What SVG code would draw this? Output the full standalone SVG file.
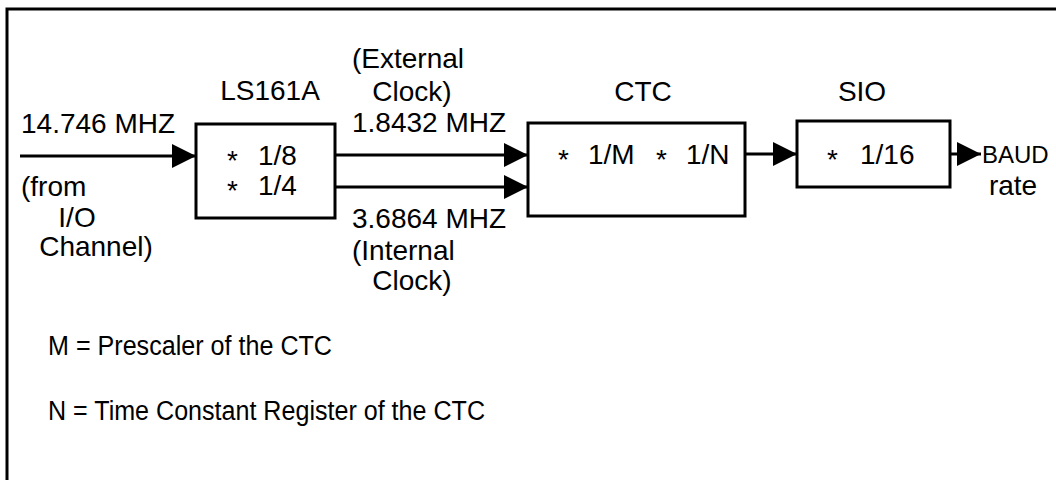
<svg xmlns="http://www.w3.org/2000/svg" width="1056" height="480" viewBox="0 0 1056 480">
<style>
text{font-family:"Liberation Sans",Arial,sans-serif;font-size:28px;fill:#000}
.c{text-anchor:middle}
.leg{font-size:27px}
.baud{font-size:24px}
.box{fill:#fff;stroke:#000;stroke-width:3}
.wire{fill:none;stroke:#000;stroke-width:3}
.frame{fill:none;stroke:#000;stroke-width:3}
</style>
<defs>
<marker id="ah" markerUnits="userSpaceOnUse" viewBox="0 0 24 24" refX="24" refY="12" markerWidth="24" markerHeight="24" orient="auto">
<path d="M0,0 L24,12 L0,24 z" fill="#000"/>
</marker>
</defs>
<rect width="1056" height="480" fill="#fff"/>
<path class="frame" d="M7,480 L7,9 L1056,9"/>

<g id="connectors">
<line class="wire" x1="20" y1="156" x2="196" y2="156" marker-end="url(#ah)"/>
<line class="wire" x1="335" y1="155" x2="528" y2="155" marker-end="url(#ah)"/>
<line class="wire" x1="335" y1="187" x2="528" y2="187" marker-end="url(#ah)"/>
<line class="wire" x1="745" y1="154" x2="797" y2="154" marker-end="url(#ah)"/>
<line class="wire" x1="950" y1="154" x2="981" y2="154" marker-end="url(#ah)"/>
</g>

<g id="input-labels">
<text x="21" y="133">14.746 MHZ</text>
<text x="21" y="196">(from</text>
<text class="c" x="77" y="227">I/O</text>
<text class="c" x="96" y="256">Channel)</text>
</g>

<g id="ls161a">
<rect class="box" x="196" y="124" width="139" height="94"/>
<text class="c" x="270" y="100">LS161A</text>
<text><tspan x="227" y="170">*</tspan><tspan x="258" y="165">1/8</tspan></text>
<text><tspan x="227" y="200">*</tspan><tspan x="258" y="195">1/4</tspan></text>
</g>

<g id="clock-labels">
<text x="352" y="68">(External</text>
<text class="c" x="412" y="101">Clock)</text>
<text x="352" y="132">1.8432 MHZ</text>
<text x="352" y="228">3.6864 MHZ</text>
<text x="352" y="260">(Internal</text>
<text class="c" x="412" y="290">Clock)</text>
</g>

<g id="ctc">
<rect class="box" x="528" y="123" width="217" height="93"/>
<text class="c" x="643" y="101">CTC</text>
<text><tspan x="558" y="169">*</tspan><tspan x="588" y="164">1/M</tspan><tspan x="656" y="169">*</tspan><tspan x="686" y="164">1/N</tspan></text>
</g>

<g id="sio">
<rect class="box" x="797" y="121" width="153" height="66"/>
<text class="c" x="862" y="101">SIO</text>
<text><tspan x="827" y="169">*</tspan><tspan x="860" y="164">1/16</tspan></text>
</g>

<g id="output-labels">
<text class="baud" x="982" y="163">BAUD</text>
<text class="c" x="1013" y="195">rate</text>
</g>

<g id="legend">
<text class="leg" x="48" y="355" textLength="284" lengthAdjust="spacingAndGlyphs">M = Prescaler of the CTC</text>
<text class="leg" x="48" y="420" textLength="437" lengthAdjust="spacingAndGlyphs">N = Time Constant Register of the CTC</text>
</g>
</svg>
